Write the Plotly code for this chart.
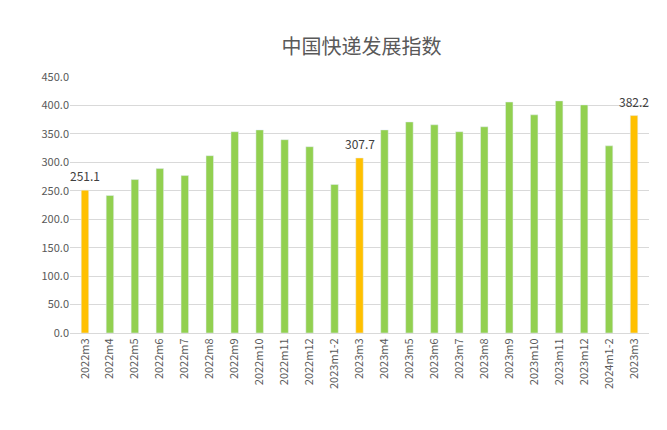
import plotly.graph_objects as go

# ── data ──
labels = ["2022m3", "2022m4", "2022m5", "2022m6", "2022m7", "2022m8", "2022m9",
          "2022m10", "2022m11", "2022m12", "2023m1-2", "2023m3", "2023m4", "2023m5",
          "2023m6", "2023m7", "2023m8", "2023m9", "2023m10", "2023m11", "2023m12",
          "2024m1-2", "2023m3"]
values = [251.1, 241.7, 269.7, 289.0, 276.7, 311.7, 353.8, 357.0, 339.8, 327.5,
          261.0, 307.7, 357.0, 371.0, 366.0, 353.8, 362.5, 406.0, 383.5, 408.0,
          401.0, 329.0, 382.2]
highlight = [0, 11, 22]

colors = ["#FFC000" if i in highlight else "#92D050" for i in range(len(values))]
xs = list(range(len(values)))

fig = go.Figure(go.Bar(x=xs, y=values, marker_color=colors, width=0.3))

# value labels on highlighted bars
for i in highlight:
    fig.add_annotation(x=xs[i], y=values[i], text=f"{values[i]:.1f}",
                       showarrow=False, yanchor="bottom", yshift=4,
                       font=dict(size=12, color="#404040"))

fig.update_layout(
    width=667, height=430,
    title=dict(text="中国快递发展指数", x=0.53, y=0.925,
               font=dict(size=20, color="#595959", family="Noto Sans CJK SC")),
    paper_bgcolor="white", plot_bgcolor="white",
    font=dict(family="Noto Sans CJK SC, Noto Sans", size=11, color="#595959"),
    margin=dict(l=62, r=26, t=69, b=105),
    showlegend=False,
)
fig.update_yaxes(range=[0, 450], dtick=50, tickformat=".1f",
                 gridcolor="#D9D9D9", zeroline=False, showline=False)
fig.update_xaxes(tickmode="array", tickvals=xs, ticktext=labels, tickangle=-90,
                 showline=True, linecolor="#D9D9D9", range=[-0.6, len(xs) - 0.4])

fig.write_html("out.html")
